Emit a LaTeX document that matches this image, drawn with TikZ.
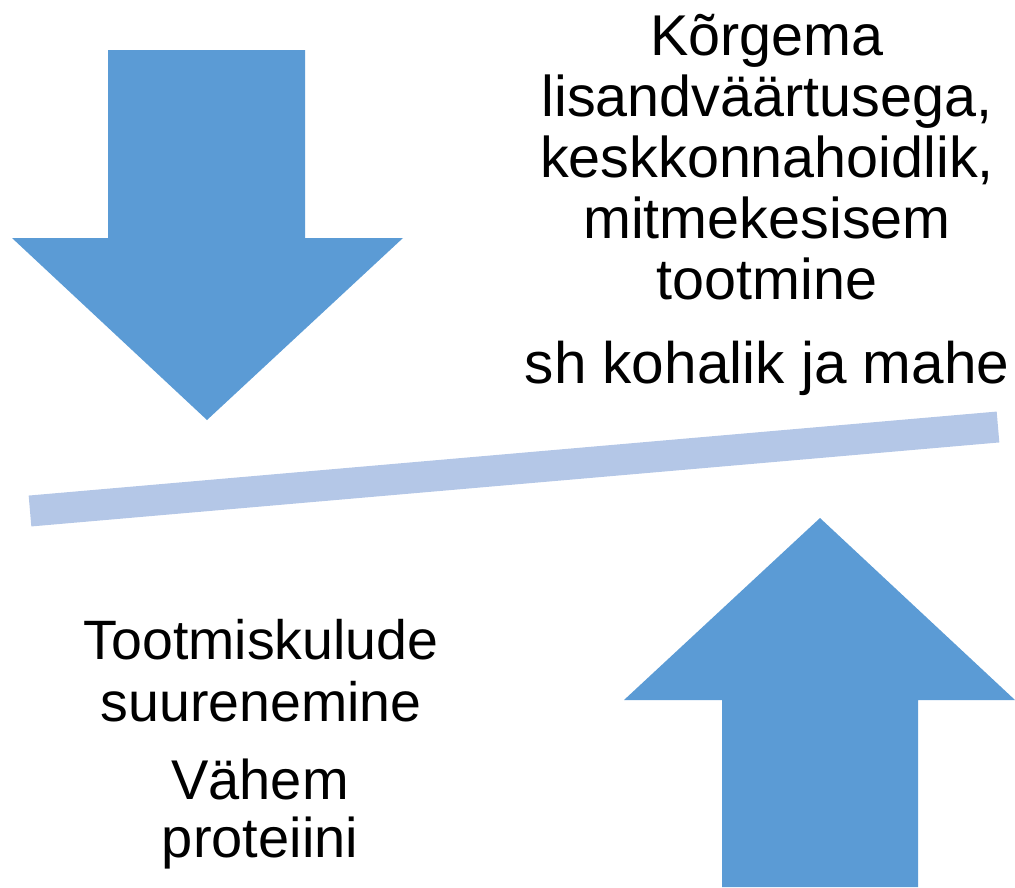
\documentclass[tikz,border=0pt]{standalone}
\usepackage{fontspec}
\setmainfont{Liberation Sans}
\definecolor{arrowblue}{HTML}{5B9BD5}
\definecolor{barblue}{HTML}{B4C7E7}
\begin{document}
\begin{tikzpicture}[x=1pt,y=-1pt,
  bigtext/.style={font=\fontsize{55.5}{61.5}\selectfont, align=center, inner sep=0pt, anchor=base}]
\useasboundingbox (0,0) rectangle (1015,887);
% down arrow
\fill[arrowblue] (108,50) -- (305,50) -- (305,238) -- (403,238) -- (207,420) -- (12,238) -- (108,238) -- cycle;
% up arrow
\fill[arrowblue] (820,518) -- (1015,700) -- (918,700) -- (918,887) -- (722,887) -- (722,700) -- (624,700) -- cycle;
% bar
\coordinate (barL) at (30,511);
\coordinate (barR) at (998,427);
\draw[barblue, line width=31pt] (barL) -- (barR);
% texts
\node[bigtext, font=\fontsize{57.5}{61}\selectfont] (t1) at (767,299) {Kõrgema\\lisandväärtusega,\\keskkonnahoidlik,\\mitmekesisem\\tootmine};
\node[bigtext, font=\fontsize{58.5}{64}\selectfont] (t2) at (767,383) {sh kohalik ja mahe};
\node[bigtext] (t3) at (261,721) {Tootmiskulude\\suurenemine};
\node[bigtext, font=\fontsize{56}{58}\selectfont] (t4) at (260,857) {Vähem\\proteiini};
\end{tikzpicture}
\end{document}
